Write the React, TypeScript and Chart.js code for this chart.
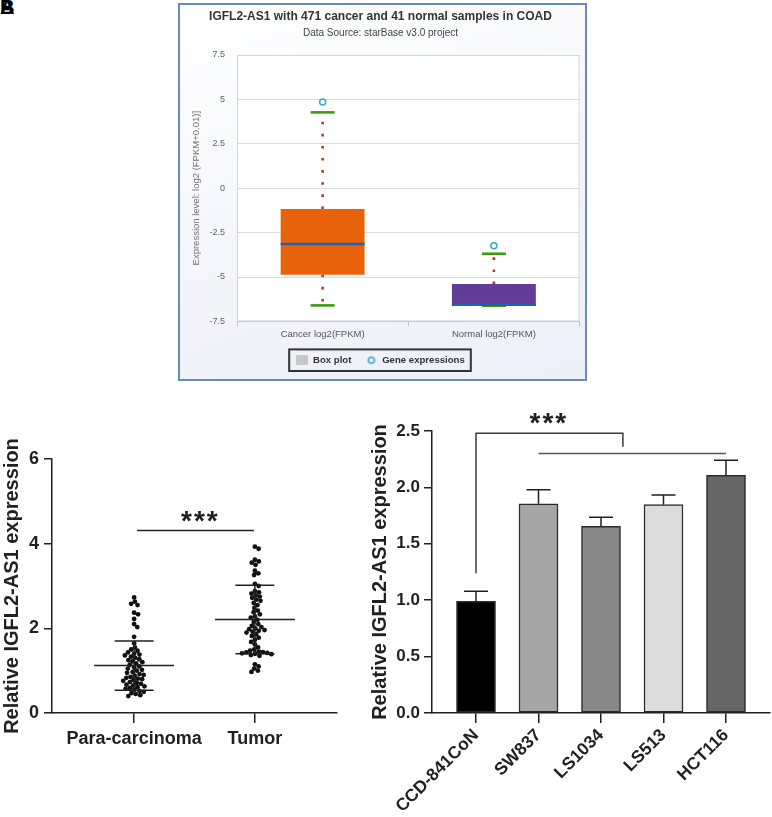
import React, { useEffect, useRef } from 'react';
import { Chart, registerables } from 'chart.js';

Chart.register(...registerables);

const FONT = "'Liberation Sans', Arial, Helvetica, sans-serif";
Chart.defaults.font.family = FONT;

// ---------- Panel A: starBase box plot ----------
const boxCategories = ['Cancer log2(FPKM)', 'Normal log2(FPKM)'];
const boxQ1 = [-4.87, -6.62];
const boxQ3 = [-1.17, -5.4];
const boxMedian = [-3.14, -6.56];
const whiskerLow = [-6.6, -6.62];
const whiskerHigh = [4.27, -3.69];
const geneOutliers = [4.85, -3.24];
const boxColors = ['#e8620c', '#633c9a'];
const boxYTicks = [-7.5, -5, -2.5, 0, 2.5, 5, 7.5];

// ---------- Panel C: dot plot ----------
const scatterGroups = ['Para-carcinoma', 'Tumor'];
const paraValues = [
  2.73, 2.63, 2.58, 2.55, 2.37, 2.33, 2.22, 2.1, 2.03, 1.8, 1.65,
  1.55, 1.5, 1.47, 1.43, 1.4,
  1.38, 1.36, 1.33, 1.3, 1.27, 1.25, 1.22, 1.2, 1.17, 1.14,
  1.1, 1.08, 1.05, 1.02, 1.0, 0.97, 0.95, 0.92, 0.9, 0.88, 0.85, 0.83, 0.81, 0.8,
  0.78, 0.76, 0.73, 0.71, 0.69, 0.67, 0.65, 0.63, 0.61, 0.59, 0.57, 0.55,
  0.52, 0.5, 0.47, 0.45, 0.42, 0.4,
];
const tumorValues = [
  3.93, 3.88, 3.62, 3.58, 3.55, 3.5, 3.36, 3.3, 3.26,
  3.05, 3.0, 2.88, 2.85, 2.82, 2.78, 2.75, 2.72, 2.68, 2.65, 2.6,
  2.55, 2.48, 2.42, 2.38, 2.33, 2.28, 2.25, 2.2, 2.15, 2.1,
  2.06, 2.03, 2.0, 1.98, 1.96, 1.94, 1.92, 1.9, 1.86, 1.82,
  1.78, 1.73, 1.68, 1.62, 1.55, 1.5, 1.47, 1.45, 1.44, 1.43,
  1.42, 1.41, 1.4, 1.39, 1.37, 1.35, 1.15, 1.1, 1.05, 1.0, 0.97,
];
const groupMeans = [1.12, 2.21];
const groupSD = [0.58, 0.81];
const scatterYTicks = [0, 2, 4, 6];
const sigC = { from: 0, to: 1, level: 4.31, starsAt: 0.54, starsLevel: 4.62 };

// ---------- Panel D: bar chart ----------
const cellLines = ['CCD-841CoN', 'SW837', 'LS1034', 'LS513', 'HCT116'];
const cellMeans = [0.99, 1.855, 1.655, 1.847, 2.107];
const cellErrors = [0.09, 0.125, 0.08, 0.085, 0.133];
const cellColors = ['#000000', '#a6a6a6', '#888888', '#dcdcdc', '#666666'];
const barYTicks = [0, 0.5, 1, 1.5, 2, 2.5];
const sigD = { from: 0, to: 2.35, legLow: 1.24, top: 2.48, drop: 2.36, groupFrom: 1, groupTo: 4, groupLevel: 2.3, starsAt: 1.15, starsLevel: 2.61 };

const INK = '#231f20';

function drawStars(ctx: CanvasRenderingContext2D, x: number, y: number) {
  ctx.save();
  ctx.fillStyle = INK;
  ctx.font = `bold 28px ${FONT}`;
  (ctx as any).letterSpacing = '2px';
  ctx.textAlign = 'center';
  ctx.textBaseline = 'alphabetic';
  ctx.fillText('***', x + 1, y + 13);
  ctx.restore();
}

function makeBoxConfig(): any {
  const boxIcon = document.createElement('canvas');
  boxIcon.width = 12; boxIcon.height = 10;
  const bctx = boxIcon.getContext('2d')!;
  bctx.fillStyle = '#c8c8c8'; bctx.fillRect(0, 0, 12, 10);
  const circIcon = document.createElement('canvas');
  circIcon.width = 10; circIcon.height = 10;
  const cctx = circIcon.getContext('2d')!;
  cctx.strokeStyle = '#35a8cc'; cctx.lineWidth = 1.5;
  cctx.beginPath(); cctx.arc(5, 5, 3, 0, Math.PI * 2); cctx.stroke();

  const boxParts = {
    id: 'boxParts',
    beforeDraw(chart: any) {
      const { ctx, chartArea: a } = chart;
      ctx.save();
      ctx.fillStyle = '#ffffff';
      ctx.fillRect(a.left, a.top, a.right - a.left, a.bottom - a.top);
      ctx.restore();
    },
    beforeDatasetsDraw(chart: any) {
      const { ctx, chartArea: a } = chart;
      const y = chart.scales.y;
      ctx.save();
      ctx.strokeStyle = '#d4d4dc'; ctx.lineWidth = 1;
      ctx.strokeRect(a.left + 0.5, a.top + 0.5, a.right - a.left - 1, a.bottom - a.top - 1);
      const meta = chart.getDatasetMeta(0);
      meta.data.forEach((bar: any, i: number) => {
        const x = bar.x;
        ctx.setLineDash([2.6, 9.5]);
        ctx.lineWidth = 2.6; ctx.strokeStyle = '#b03b18';
        ctx.beginPath(); ctx.moveTo(x, y.getPixelForValue(boxQ3[i])); ctx.lineTo(x, y.getPixelForValue(whiskerHigh[i])); ctx.stroke();
        ctx.beginPath(); ctx.moveTo(x, y.getPixelForValue(boxQ1[i])); ctx.lineTo(x, y.getPixelForValue(whiskerLow[i])); ctx.stroke();
        ctx.setLineDash([]);
        ctx.strokeStyle = '#3f9a12'; ctx.lineWidth = 2.6;
        [whiskerHigh[i], whiskerLow[i]].forEach((v) => {
          const py = y.getPixelForValue(v);
          ctx.beginPath(); ctx.moveTo(x - 12, py); ctx.lineTo(x + 12, py); ctx.stroke();
        });
      });
      ctx.restore();
    },
    afterDatasetsDraw(chart: any) {
      const { ctx } = chart;
      const y = chart.scales.y;
      const meta = chart.getDatasetMeta(0);
      ctx.save();
      ctx.strokeStyle = '#2160b0'; ctx.lineWidth = 2.6;
      meta.data.forEach((bar: any, i: number) => {
        const py = y.getPixelForValue(boxMedian[i]);
        ctx.beginPath(); ctx.moveTo(bar.x - bar.width / 2, py); ctx.lineTo(bar.x + bar.width / 2, py); ctx.stroke();
      });
      ctx.restore();
    },
    afterDraw(chart: any) {
      const hb = chart.legend?.legendHitBoxes;
      if (!hb || !hb.length) return;
      const { ctx } = chart;
      const left = Math.min(...hb.map((h: any) => h.left)) - 7;
      const right = Math.max(...hb.map((h: any) => h.left + h.width)) + 6;
      const top = Math.min(...hb.map((h: any) => h.top)) - 6;
      const bottom = Math.max(...hb.map((h: any) => h.top + h.height)) + 6;
      ctx.save();
      ctx.strokeStyle = '#333333'; ctx.lineWidth = 2;
      ctx.strokeRect(left, top, right - left, bottom - top);
      ctx.restore();
    },
  };

  return {
    type: 'bar',
    data: {
      labels: boxCategories,
      datasets: [
        {
          type: 'bar',
          label: 'Box plot',
          data: boxCategories.map((_, i) => [boxQ1[i], boxQ3[i]]),
          backgroundColor: boxColors,
          borderWidth: 0,
          barPercentage: 0.98,
          categoryPercentage: 0.5,
        },
        {
          type: 'line',
          label: 'Gene expressions',
          data: geneOutliers,
          showLine: false,
          pointRadius: 3,
          pointBorderWidth: 1.5,
          pointBorderColor: '#35a8cc',
          pointBackgroundColor: 'rgba(255,255,255,0)',
        },
      ],
    },
    options: {
      animation: false,
      responsive: false,
      events: [],
      layout: { padding: { left: 0, right: 4, top: 0, bottom: 4 } },
      plugins: {
        tooltip: { enabled: false },
        title: {
          display: true,
          text: 'IGFL2-AS1 with 471 cancer and 41 normal samples in COAD',
          color: '#333333',
          font: { size: 12, weight: 'bold', family: FONT },
          padding: { top: 4, bottom: 4 },
        },
        subtitle: {
          display: true,
          text: 'Data Source: starBase v3.0 project',
          color: '#444444',
          font: { size: 10, family: FONT },
          padding: { top: 0, bottom: 15.6 },
        },
        legend: {
          position: 'bottom',
          labels: {
            usePointStyle: true,
            pointStyleWidth: 12,
            padding: 14,
            color: '#333333',
            font: { size: 9.6, weight: 'bold', family: FONT },
            generateLabels: () => [
              { text: 'Box plot', pointStyle: boxIcon, fillStyle: '#c8c8c8', strokeStyle: '#c8c8c8', lineWidth: 0, hidden: false, datasetIndex: 0, fontColor: '#333333' },
              { text: 'Gene expressions', pointStyle: circIcon, fillStyle: '#ffffff', strokeStyle: '#35a8cc', lineWidth: 0, hidden: false, datasetIndex: 1, fontColor: '#333333' },
            ],
          },
        },
      },
      scales: {
        x: {
          type: 'category',
          offset: true,
          grid: { display: true, drawOnChartArea: false, offset: true, tickLength: 5, color: '#c4c4d0' },
          border: { display: true, color: '#c4c4d0', width: 1 },
          ticks: { color: '#555555', font: { size: 9.5, family: FONT }, padding: 2, maxRotation: 0 },
          afterFit: (s: any) => { s.height = 20; },
        },
        y: {
          min: -7.5,
          max: 7.5,
          afterBuildTicks: (s: any) => { s.ticks = boxYTicks.map((v) => ({ value: v })); },
          ticks: { color: '#606060', font: { size: 9, family: FONT }, padding: 12, callback: (v: any) => String(v) },
          grid: { color: '#dcdcdc', drawTicks: false },
          border: { display: false },
          title: {
            display: true,
            text: 'Expression level: log2 (FPKM+0.01)]',
            color: '#707070',
            font: { size: 9.5, family: FONT },
            padding: { top: 11, bottom: 0 },
          },
          afterFit: (s: any) => { s.width = 57; },
        },
      },
    },
    plugins: [boxParts],
  };
}

function makeDotConfig(): any {
  const swarm = {
    id: 'swarm',
    beforeDatasetsDraw(chart: any) {
      const xs = chart.scales.x;
      const d = 4.3;
      chart.data.datasets.forEach((ds: any, di: number) => {
        const pts = chart.getDatasetMeta(di).data;
        const order = pts.map((_: any, i: number) => i).sort((a: number, b: number) => pts[a].y - pts[b].y);
        const placed: { y: number; off: number }[] = [];
        order.forEach((i: number) => {
          const p = pts[i];
          const cx = xs.getPixelForValue(ds.data[i].x);
          const cands = [0];
          placed.forEach((q) => {
            const dy = p.y - q.y;
            if (Math.abs(dy) < d) {
              const dx = Math.sqrt(d * d - dy * dy);
              cands.push(q.off + dx, q.off - dx);
            }
          });
          cands.sort((a, b) => Math.abs(a) - Math.abs(b));
          let best = 0;
          for (const c of cands) {
            const ok = placed.every((q) => {
              const dy = p.y - q.y; const dx = c - q.off;
              return dx * dx + dy * dy >= d * d - 0.01;
            });
            if (ok) { best = c; break; }
          }
          placed.push({ y: p.y, off: best });
          p.x = cx + best;
        });
      });
    },
    afterDatasetsDraw(chart: any) {
      const { ctx } = chart;
      const xs = chart.scales.x; const ys = chart.scales.y;
      ctx.save();
      ctx.strokeStyle = INK; ctx.lineWidth = 1.5;
      groupMeans.forEach((m, i) => {
        const cx = xs.getPixelForValue(i);
        const pm = ys.getPixelForValue(m);
        const ph = ys.getPixelForValue(m + groupSD[i]);
        const pl = ys.getPixelForValue(m - groupSD[i]);
        ctx.beginPath();
        ctx.moveTo(cx - 40, pm); ctx.lineTo(cx + 40, pm);
        ctx.moveTo(cx - 19.5, ph); ctx.lineTo(cx + 19.5, ph);
        ctx.moveTo(cx - 19.5, pl); ctx.lineTo(cx + 19.5, pl);
        ctx.moveTo(cx, ph); ctx.lineTo(cx, pl);
        ctx.stroke();
      });
      const ly = ys.getPixelForValue(sigC.level);
      ctx.beginPath();
      ctx.moveTo(xs.getPixelForValue(sigC.from) + 3, ly);
      ctx.lineTo(xs.getPixelForValue(sigC.to) - 1, ly);
      ctx.stroke();
      ctx.restore();
      drawStars(ctx, xs.getPixelForValue(sigC.starsAt), ys.getPixelForValue(sigC.starsLevel));
    },
  };

  return {
    type: 'scatter',
    data: {
      datasets: [
        { label: scatterGroups[0], data: paraValues.map((v) => ({ x: 0, y: v })) },
        { label: scatterGroups[1], data: tumorValues.map((v) => ({ x: 1, y: v })) },
      ],
    },
    options: {
      animation: false,
      responsive: false,
      events: [],
      layout: { padding: { top: 59, right: 43, bottom: 54, left: 0 } },
      plugins: { legend: { display: false }, tooltip: { enabled: false } },
      elements: { point: { radius: 2.4, backgroundColor: '#111111', borderWidth: 0, borderColor: '#111111' } },
      scales: {
        x: {
          type: 'linear',
          min: -0.68,
          max: 1.68,
          afterBuildTicks: (s: any) => { s.ticks = scatterGroups.map((_, i) => ({ value: i })); },
          ticks: {
            callback: (v: any) => scatterGroups[v],
            color: INK,
            font: { size: 18, weight: 'bold', family: FONT },
            padding: 5,
            maxRotation: 0,
            autoSkip: false,
          },
          grid: { drawOnChartArea: false, tickLength: 10, color: INK, lineWidth: 1.5 },
          border: { display: true, color: INK, width: 1.5 },
          afterFit: (s: any) => { s.height = 50; },
        },
        y: {
          min: 0,
          max: 6,
          afterBuildTicks: (s: any) => { s.ticks = scatterYTicks.map((v) => ({ value: v })); },
          ticks: { color: INK, font: { size: 18, weight: 'bold', family: FONT }, padding: 5 },
          grid: { drawOnChartArea: false, tickLength: 8, color: INK, lineWidth: 1.5 },
          border: { display: true, color: INK, width: 1.5 },
          title: {
            display: true,
            text: 'Relative IGFL2-AS1 expression',
            color: INK,
            font: { size: 20, weight: 'bold', family: FONT },
            padding: { top: 0, bottom: 0 },
          },
          afterFit: (s: any) => { s.width = 52; },
        },
      },
    },
    plugins: [swarm],
  };
}

function makeBarConfig(): any {
  const extras = {
    id: 'barExtras',
    afterDatasetsDraw(chart: any) {
      const { ctx } = chart;
      const xs = chart.scales.x; const ys = chart.scales.y;
      const meta = chart.getDatasetMeta(0);
      ctx.save();
      ctx.strokeStyle = INK; ctx.lineWidth = 1.5;
      meta.data.forEach((bar: any, i: number) => {
        const top = ys.getPixelForValue(cellMeans[i]);
        const et = ys.getPixelForValue(cellMeans[i] + cellErrors[i]);
        ctx.beginPath();
        ctx.moveTo(bar.x, top); ctx.lineTo(bar.x, et);
        ctx.moveTo(bar.x - 12, et); ctx.lineTo(bar.x + 12, et);
        ctx.stroke();
      });
      ctx.strokeStyle = '#3a3a3a';
      const x0 = xs.getPixelForValue(sigD.from);
      const x1 = xs.getPixelForValue(sigD.to);
      ctx.beginPath();
      ctx.moveTo(x0, ys.getPixelForValue(sigD.legLow));
      ctx.lineTo(x0, ys.getPixelForValue(sigD.top));
      ctx.lineTo(x1, ys.getPixelForValue(sigD.top));
      ctx.lineTo(x1, ys.getPixelForValue(sigD.drop));
      ctx.stroke();
      ctx.strokeStyle = '#555555';
      ctx.beginPath();
      ctx.moveTo(xs.getPixelForValue(sigD.groupFrom), ys.getPixelForValue(sigD.groupLevel));
      ctx.lineTo(xs.getPixelForValue(sigD.groupTo), ys.getPixelForValue(sigD.groupLevel));
      ctx.stroke();
      ctx.restore();
      drawStars(ctx, xs.getPixelForValue(sigD.starsAt), ys.getPixelForValue(sigD.starsLevel));
    },
  };

  return {
    type: 'bar',
    data: {
      datasets: [
        {
          label: 'IGFL2-AS1',
          data: cellMeans.map((v, i) => ({ x: i, y: v })),
          backgroundColor: cellColors,
          borderColor: '#2a2a2a',
          borderWidth: 1.5,
          borderSkipped: false,
          barThickness: 39,
        },
      ],
    },
    options: {
      animation: false,
      responsive: false,
      events: [],
      layout: { padding: { top: 31, right: 2, bottom: 4, left: 0 } },
      plugins: { legend: { display: false }, tooltip: { enabled: false } },
      scales: {
        x: {
          type: 'linear',
          offset: false,
          min: -0.704,
          max: 4.704,
          afterBuildTicks: (s: any) => { s.ticks = cellLines.map((_, i) => ({ value: i })); },
          ticks: {
            callback: (v: any) => cellLines[v],
            color: INK,
            font: { size: 17.5, weight: 'bold', family: FONT },
            minRotation: 45,
            maxRotation: 45,
            autoSkip: false,
            padding: 2,
          },
          grid: { drawOnChartArea: false, offset: false, tickLength: 10, color: INK, lineWidth: 1.5 },
          border: { display: true, color: INK, width: 1.5 },
          afterFit: (s: any) => { s.height = 100; },
        },
        y: {
          min: 0,
          max: 2.5,
          afterBuildTicks: (s: any) => { s.ticks = barYTicks.map((v) => ({ value: v })); },
          ticks: {
            color: INK,
            font: { size: 17, weight: 'bold', family: FONT },
            padding: 4,
            callback: (v: any) => Number(v).toFixed(1),
          },
          grid: { drawOnChartArea: false, tickLength: 8, color: INK, lineWidth: 1.5 },
          border: { display: true, color: INK, width: 1.5 },
          title: {
            display: true,
            text: 'Relative IGFL2-AS1 expression',
            color: INK,
            font: { size: 20, weight: 'bold', family: FONT },
            padding: { top: 8, bottom: 0 },
          },
          afterFit: (s: any) => { s.width = 72; },
        },
      },
    },
    plugins: [extras],
  };
}

function ChartCanvas({ left, top, width, height, make, frame }: any) {
  const ref = useRef<HTMLCanvasElement | null>(null);
  useEffect(() => {
    const chart = new Chart(ref.current as HTMLCanvasElement, make());
    return () => chart.destroy();
  }, []);
  const frameStyle: any = frame
    ? {
        border: '2px solid #6b8bb5',
        background: 'linear-gradient(160deg, #ffffff 0%, #f4f5fb 55%, #eceff8 100%)',
      }
    : {};
  return (
    <div style={{ position: 'absolute', left, top, ...frameStyle }}>
      <canvas ref={ref} width={width} height={height} style={{ display: 'block', width, height }} />
    </div>
  );
}

export default function App() {
  const label: any = {
    position: 'absolute',
    left: 0,
    top: -3,
    font: `bold 20px ${FONT}`,
    lineHeight: '20px',
    color: '#000',
  };
  return (
    <div style={{ position: 'absolute', left: 0, top: 0, width: 772, height: 817, background: '#ffffff', overflow: 'hidden' }}>
      <div style={label}>B</div>
      <div style={label}>A</div>
      <ChartCanvas left={178} top={3} width={405} height={374} make={makeBoxConfig} frame />
      <ChartCanvas left={0} top={400} width={380} height={417} make={makeDotConfig} />
      <ChartCanvas left={360} top={400} width={412} height={417} make={makeBarConfig} />
    </div>
  );
}
